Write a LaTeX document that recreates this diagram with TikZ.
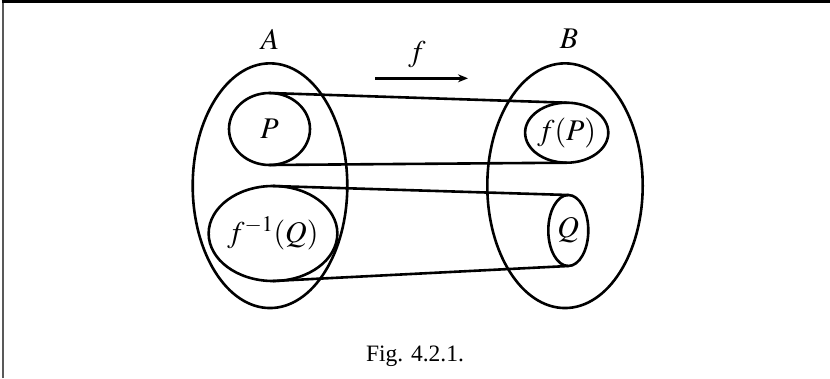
\documentclass[tikz,border=0pt]{standalone}
\usepackage{mathptmx}
\usepackage{fontspec}
\setmainfont{Liberation Serif}
\usetikzlibrary{shapes.geometric,arrows.meta}
\begin{document}
\begin{tikzpicture}[x=1pt,y=-1pt,
  set/.style={draw,ellipse,line width=2.6pt,inner sep=0pt,outer sep=0pt,font=\fontsize{30}{34}\selectfont},
  map/.style={line width=2.6pt},
  lab/.style={font=\fontsize{30}{34}\selectfont,inner sep=0pt}]
\useasboundingbox (0,0) rectangle (830,378);
\draw[gray!70!black,line width=2.2pt] (2.7,378) -- (2.7,1.5);
\draw[black,line width=2.2pt] (1.6,1.5) -- (830,1.5);
\node[set,minimum width=154.6pt,minimum height=244.7pt] (A) at (270,185.7) {};
\node[set,minimum width=155.4pt,minimum height=244.7pt] (B) at (565,185.7) {};
\node[set,minimum width=81pt,minimum height=72pt] (P) at (269.5,129) {$P$};
\node[set,minimum width=107.4pt,minimum height=95pt] (Qi) at (273,233.5) {$f^{-1}(Q)$};
\node[set,minimum width=81.4pt,minimum height=60pt] (fP) at (566.7,132.7) {$f(P)$};
\node[set,minimum width=40pt,minimum height=71pt] (Q) at (568.3,230.5) {$Q$};
\node[lab] (lA) at (270,39) {$A$};
\node[lab] (lB) at (569,39) {$B$};
\coordinate (a1) at (375,78.3);
\coordinate (a2) at (468,78.3);
\draw[line width=2.4pt,-{Stealth[length=10pt,width=8pt]}] (a1) -- (a2);
\node[lab] (lf) at (417,55) {$f$};
\draw[map] (P.north) -- (fP.north);
\draw[map] (P.south) -- (fP.south);
\draw[map] (Qi.north) -- (Q.north);
\draw[map] (Qi.south) -- (Q.south);
\node[font=\fontsize{23.5}{28}\selectfont,inner sep=0pt] (cap) at (415,356) {Fig. 4.2.1.};
\end{tikzpicture}
\end{document}
